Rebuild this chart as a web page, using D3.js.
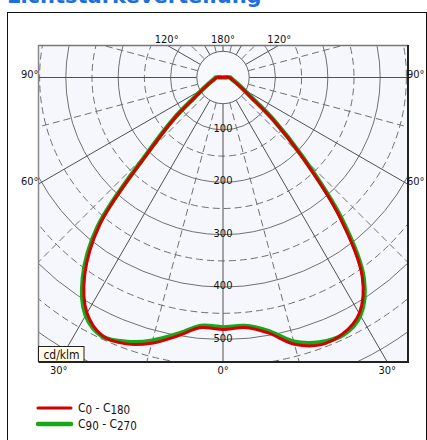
<!DOCTYPE html>
<html><head><meta charset="utf-8">
<script src="https://cdn.jsdelivr.net/npm/d3@7"></script>
<style>body{margin:0;background:#fff}</style>
</head><body>
<svg id="c" width="427" height="440"></svg>
<script>
// ---- data ----
const angles = [0,5,10,15,20,25,30,35,40,45,50,55,60,65,70,75,80,85,90,95,100,105,110,115,120,125,130,135,140,145,150,155,160,165,170,175,180];
const c0   = [481,479,495,527,543,540,520,463,345,212,122,64,43,31,24,19,16,14,13,0,0,0,0,0,0,0,0,0,0,0,0,0,0,0,0,0,0];
const c180 = [481,479,501,525,541,544,519,460,365,200,120,64,43,31,24,19,16,14,13,0,0,0,0,0,0,0,0,0,0,0,0,0,0,0,0,0,0];
const c90  = [477,476,491,522,538,542,524,468,352,216,125,66,45,33,25,20,17,15,14,0,0,0,0,0,0,0,0,0,0,0,0,0,0,0,0,0,0];
const c270 = [477,476,497,520,537,545,524,466,372,205,123,66,45,33,25,20,17,15,14,0,0,0,0,0,0,0,0,0,0,0,0,0,0,0,0,0,0];
const radialTicks = [100,200,300,400,500];
const gridCircles = [50,100,150,200,250,300,350,400,450,500,550,600,650,700];
const gridAngles = [0,15,30,45,60,75,90,105,120,135,150,165,180];
const angleLabels = [-120,180,120,-90,90,-60,60,-30,0,30];
const unitLabel = "cd/klm";
const legendItems = [
  {name:["C","0"," - C","180"], color:"#d40000", width:3},
  {name:["C","90"," - C","270"], color:"#17a817", width:4.5}
];
const title = "Lichtstärkeverteilung";

// ---- layout ----
const svg = d3.select("#c");
const FONT = "'DejaVu Sans Condensed','DejaVu Sans',sans-serif";
const cx = 223, cy = 77.5;
const px0 = 38.5, py0 = 45, px1 = 408, py1 = 362;
const r = d3.scaleLinear().domain([0,500]).range([0,262]);
const rad = d => d*Math.PI/180;

// title (cut off at top, as in the source)
svg.append("text").attr("x",7).attr("y",3).text(title)
  .attr("font-family","'DejaVu Sans',sans-serif").attr("font-weight","bold")
  .attr("font-size",21).attr("fill","#1f6fe0");

// outer frame
svg.append("rect").attr("x",7.5).attr("y",12.5).attr("width",419).attr("height",440)
  .attr("fill","#fff").attr("stroke","#111").attr("stroke-width",1);

// plot background
svg.append("rect").attr("x",px0).attr("y",py0).attr("width",px1-px0).attr("height",py1-py0)
  .attr("fill","#f6f7fc");

svg.append("clipPath").attr("id","clip").append("rect")
  .attr("x",px0).attr("y",py0).attr("width",px1-px0).attr("height",py1-py0);

const g = svg.append("g").attr("clip-path","url(#clip)");
const gc = g.append("g").attr("transform",`translate(${cx},${cy})`);

// circles
gc.selectAll("circle.grid").data(gridCircles.filter(v=>v>50)).join("circle")
  .attr("r",d=>r(d)).attr("fill","none")
  .attr("stroke", "#707070").attr("stroke-width",1)
  .attr("stroke-dasharray", d=> d%100===0 ? null : "7,4");

// radial lines both sides
const spokes = [];
gridAngles.forEach(a=>{ spokes.push(a); if(a>0 && a<180) spokes.push(-a); });
gc.selectAll("line.spoke").data(spokes).join("line")
  .attr("x1",d=>r(50)*Math.sin(rad(d))).attr("y1",d=>r(50)*Math.cos(rad(d)))
  .attr("x2",d=>r(900)*Math.sin(rad(d))).attr("y2",d=>r(900)*Math.cos(rad(d)))
  .attr("stroke", d=> Math.abs(d)%30===0 ? "#505050" : "#707070")
  .attr("stroke-width",1)
  .attr("stroke-dasharray", d=> Math.abs(d)%30===0 ? null : "7,4");

// inner circle
gc.append("circle").attr("r",r(50)).attr("fill","#f8f9fd").attr("stroke","#666").attr("stroke-width",1);

// radial value labels
gc.selectAll("text.rl").data(radialTicks).join("text")
  .attr("x",0).attr("y",d=>r(d)+2).attr("text-anchor","middle")
  .attr("font-family",FONT).attr("font-size",11).attr("fill","#111").text(d=>d);

// curves
function fullCurve(left, right){
  const pts = [];
  for(let i=angles.length-1;i>=1;i--) pts.push({a:Math.PI + rad(angles[i]), v:left[i]});
  pts.push({a:Math.PI, v:(left[0]+right[0])/2});
  for(let i=1;i<angles.length;i++) pts.push({a:Math.PI - rad(angles[i]), v:right[i]});
  return pts;
}
const line = d3.lineRadial().angle(d=>d.a).radius(d=>r(d.v)).curve(d3.curveCatmullRom.alpha(0.5));
gc.append("path").attr("d", line(fullCurve(c270,c90))).attr("fill","none")
  .attr("stroke",legendItems[1].color).attr("stroke-width",legendItems[1].width).attr("stroke-linejoin","round");
gc.append("path").attr("d", line(fullCurve(c180,c0))).attr("fill","none")
  .attr("stroke",legendItems[0].color).attr("stroke-width",legendItems[0].width).attr("stroke-linejoin","round");

// plot borders
svg.append("line").attr("x1",px0).attr("y1",py0+0.5).attr("x2",px1).attr("y2",py0+0.5).attr("stroke","#777").attr("stroke-width",1.5);
svg.append("line").attr("x1",px0).attr("y1",py0).attr("x2",px0).attr("y2",py1).attr("stroke","#888").attr("stroke-width",1.5);
svg.append("line").attr("x1",px1).attr("y1",py0).attr("x2",px1).attr("y2",py1+1).attr("stroke","#222").attr("stroke-width",2);
svg.append("line").attr("x1",px0).attr("y1",py1).attr("x2",px1+1).attr("y2",py1).attr("stroke","#222").attr("stroke-width",2);

// unit box
svg.append("rect").attr("x",38.5).attr("y",346.5).attr("width",45.5).attr("height",15)
  .attr("fill","#fffbe8").attr("stroke","#222").attr("stroke-width",1);
svg.append("text").attr("x",61.5).attr("y",358.5).attr("text-anchor","middle")
  .attr("font-family",FONT).attr("font-size",12).attr("fill","#111").text(unitLabel);

// angle labels at ray exits
angleLabels.forEach(a=>{
  const dx = Math.sin(rad(a)), dy = Math.cos(rad(a));
  const ts = [];
  if(dx>1e-9) ts.push({t:(px1-cx)/dx, e:"right"});
  if(dx<-1e-9) ts.push({t:(px0-cx)/dx, e:"left"});
  if(dy>1e-9) ts.push({t:(py1-cy)/dy, e:"bottom"});
  if(dy<-1e-9) ts.push({t:(py0-cy)/dy, e:"top"});
  const hit = ts.reduce((m,o)=>o.t<m.t?o:m);
  const x = cx + hit.t*dx, y = cy + hit.t*dy;
  const t = svg.append("text").attr("font-family",FONT).attr("font-size",11).attr("fill","#111")
    .text(Math.abs(a)+"°");
  if(hit.e==="top") t.attr("x",x).attr("y",py0-2).attr("text-anchor","middle");
  else if(hit.e==="bottom") t.attr("x",x).attr("y",py1+11.5).attr("text-anchor","middle");
  else if(hit.e==="left") t.attr("x",px0).attr("y",y+0.5).attr("text-anchor","end");
  else t.attr("x",px1-1).attr("y",y+0.5).attr("text-anchor","start");
});

// legend
legendItems.forEach((it,i)=>{
  const y = 408 + i*16;
  svg.append("line").attr("x1",38).attr("x2",71).attr("y1",y).attr("y2",y)
    .attr("stroke",it.color).attr("stroke-width",it.width).attr("stroke-linecap","round");
  const t = svg.append("text").attr("x",78).attr("y",y+4).attr("font-family",FONT)
    .attr("font-size",12).attr("fill","#111");
  t.append("tspan").text(it.name[0]);
  t.append("tspan").attr("dy",2).attr("font-size",11.5).text(it.name[1]);
  t.append("tspan").attr("dy",-2).text(it.name[2]);
  t.append("tspan").attr("dy",2).attr("font-size",11.5).text(it.name[3]);
});
</script>
</body></html>
